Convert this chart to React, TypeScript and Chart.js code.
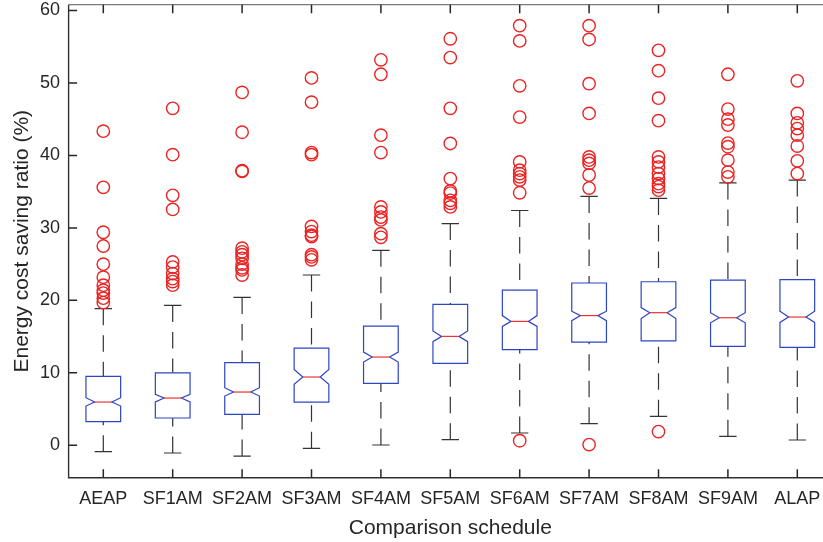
import React, { useEffect, useRef } from "react";
import { Chart, registerables } from "chart.js";

Chart.register(...registerables);

// Schedules compared on the horizontal axis
const categories = [
  "AEAP", "SF1AM", "SF2AM", "SF3AM", "SF4AM", "SF5AM",
  "SF6AM", "SF7AM", "SF8AM", "SF9AM", "ALAP",
];

// Box statistics (energy cost saving ratio, %)
const whiskerLow = [-0.88, -1.06, -1.48, -0.41, 0.04, 0.78, 1.7, 2.98, 4.0, 1.24, 0.73];
const q1 = [3.26, 3.77, 4.27, 5.97, 8.55, 11.3, 13.2, 14.25, 14.4, 13.65, 13.5];
const notchLow = [5.42, 6.0, 6.8, 8.41, 11.49, 14.3, 16.4, 17.2, 17.5, 16.9, 16.96];
const median = [5.97, 6.52, 7.35, 9.42, 12.18, 15.03, 17.1, 17.9, 18.3, 17.6, 17.7];
const notchHigh = [6.57, 7.03, 7.95, 10.48, 12.87, 15.77, 17.9, 18.5, 19.0, 18.3, 18.5];
const q3 = [9.52, 10.0, 11.4, 13.4, 16.45, 19.45, 21.4, 22.4, 22.57, 22.8, 22.85];
const whiskerHigh = [18.85, 19.3, 20.4, 23.5, 26.9, 30.6, 32.4, 34.35, 34.07, 36.2, 36.6];

// Outlying observations per schedule
const outliers = [
  [43.35, 35.6, 29.4, 27.5, 25.0, 23.2, 22.1, 21.4, 21.0, 20.3, 19.7],
  [46.5, 40.1, 34.5, 32.55, 25.3, 24.6, 23.7, 23.0, 22.6, 22.1],
  [48.7, 43.2, 37.9, 37.8, 27.2, 26.7, 26.3, 25.8, 25.0, 24.5, 24.2, 23.5],
  [50.7, 47.35, 40.4, 40.1, 30.2, 29.5, 29.0, 28.8, 26.3, 26.0, 25.6],
  [53.2, 51.2, 42.8, 40.4, 32.9, 32.2, 31.5, 31.1, 29.2, 28.7],
  [56.1, 53.5, 46.5, 41.65, 36.8, 35.1, 34.8, 33.8, 33.4, 32.9],
  [57.9, 55.8, 49.6, 45.3, 39.1, 37.97, 37.5, 37.05, 36.6, 34.85, 0.63],
  [57.9, 56.0, 49.9, 45.8, 39.8, 39.35, 38.9, 37.3, 35.5, 0.1],
  [54.5, 51.7, 47.9, 44.8, 39.8, 39.1, 38.4, 37.5, 36.8, 36.1, 35.7, 35.2, 1.9],
  [51.2, 46.4, 45.0, 44.2, 41.7, 41.2, 39.35, 37.7, 37.05],
  [50.3, 45.8, 44.5, 43.7, 42.8, 41.3, 39.25, 37.5],
];

const yTicks = [0, 10, 20, 30, 40, 50, 60];
const xTicks = categories.map((_, i) => i + 1);

const FONT = "'Liberation Sans', Arial, Helvetica, sans-serif";
const TEXT = "#262626";
const BOX_BLUE = "rgb(45, 70, 195)";
const MEDIAN_RED = "rgb(238, 50, 50)";
const OUTLIER_RED = "rgb(235, 35, 35)";
const WHISKER = "#333333";

// Notched boxes, whiskers and the axes frame with inward ticks
const boxPlotPlugin = {
  id: "notchedBoxPlot",
  beforeDatasetsDraw(chart: any) {
    const { ctx, scales } = chart;
    const xs = scales.x;
    const ys = scales.y;
    ctx.save();
    categories.forEach((_, i) => {
      const c = i + 1;
      const cx = xs.getPixelForValue(c);
      const w = xs.getPixelForValue(c + 0.25) - cx;
      const capW = xs.getPixelForValue(c + 0.125) - cx;
      const pQ1 = ys.getPixelForValue(q1[i]);
      const pQ3 = ys.getPixelForValue(q3[i]);
      const pMed = ys.getPixelForValue(median[i]);
      const pNl = ys.getPixelForValue(notchLow[i]);
      const pNh = ys.getPixelForValue(notchHigh[i]);
      const pWl = ys.getPixelForValue(whiskerLow[i]);
      const pWh = ys.getPixelForValue(whiskerHigh[i]);

      // whiskers: dashed from the cap towards the box
      ctx.strokeStyle = WHISKER;
      ctx.lineWidth = 1.2;
      ctx.setLineDash([16.5, 10]);
      ctx.beginPath();
      ctx.moveTo(cx, pWh);
      ctx.lineTo(cx, pQ3);
      ctx.stroke();
      ctx.beginPath();
      ctx.moveTo(cx, pWl);
      ctx.lineTo(cx, pQ1);
      ctx.stroke();
      ctx.setLineDash([]);
      // caps
      ctx.beginPath();
      ctx.moveTo(cx - capW, pWh);
      ctx.lineTo(cx + capW, pWh);
      ctx.moveTo(cx - capW, pWl);
      ctx.lineTo(cx + capW, pWl);
      ctx.stroke();

      // notched box outline
      ctx.strokeStyle = BOX_BLUE;
      ctx.lineWidth = 1.2;
      ctx.beginPath();
      ctx.moveTo(cx - w, pQ1);
      ctx.lineTo(cx - w, pNl);
      ctx.lineTo(cx - w / 2, pMed);
      ctx.lineTo(cx - w, pNh);
      ctx.lineTo(cx - w, pQ3);
      ctx.lineTo(cx + w, pQ3);
      ctx.lineTo(cx + w, pNh);
      ctx.lineTo(cx + w / 2, pMed);
      ctx.lineTo(cx + w, pNl);
      ctx.lineTo(cx + w, pQ1);
      ctx.closePath();
      ctx.stroke();

      // median
      ctx.strokeStyle = MEDIAN_RED;
      ctx.beginPath();
      ctx.moveTo(cx - w / 2, pMed);
      ctx.lineTo(cx + w / 2, pMed);
      ctx.stroke();
    });
    ctx.restore();
  },
  afterDraw(chart: any) {
    const { ctx, chartArea, scales } = chart;
    const { left, right, top, bottom } = chartArea;
    const tickLen = 8.5;
    ctx.save();
    // frame: lighter top and right edges, darker left and bottom axes
    ctx.lineWidth = 1.2;
    ctx.strokeStyle = "#7a7a7a";
    ctx.beginPath();
    ctx.moveTo(left, top);
    ctx.lineTo(right, top);
    ctx.lineTo(right, bottom);
    ctx.stroke();
    ctx.strokeStyle = "#303030";
    ctx.lineWidth = 1.4;
    ctx.beginPath();
    ctx.moveTo(left, top);
    ctx.lineTo(left, bottom);
    ctx.lineTo(right, bottom);
    ctx.stroke();
    // inward tick marks
    ctx.strokeStyle = TEXT;
    ctx.lineWidth = 1.5;
    ctx.beginPath();
    scales.y.ticks.forEach((t: any) => {
      const py = scales.y.getPixelForValue(t.value);
      ctx.moveTo(left, py);
      ctx.lineTo(left + tickLen, py);
      ctx.moveTo(right, py);
      ctx.lineTo(right - tickLen, py);
    });
    scales.x.ticks.forEach((t: any) => {
      const px = scales.x.getPixelForValue(t.value);
      ctx.moveTo(px, top);
      ctx.lineTo(px, top + tickLen);
      ctx.moveTo(px, bottom);
      ctx.lineTo(px, bottom - tickLen);
    });
    ctx.stroke();
    ctx.restore();
  },
};

export default function App() {
  const canvasRef = useRef<HTMLCanvasElement | null>(null);

  useEffect(() => {
    if (!canvasRef.current) return;
    const outlierPoints = outliers.flatMap((vals, i) =>
      vals.map((v) => ({ x: i + 1, y: v }))
    );
    const chart = new Chart(canvasRef.current, {
      type: "scatter",
      data: {
        datasets: [
          {
            label: "Outliers",
            data: outlierPoints,
            pointStyle: "circle",
            pointRadius: 6.2,
            pointBorderWidth: 1.4,
            pointBorderColor: OUTLIER_RED,
            pointBackgroundColor: "rgba(0,0,0,0)",
            pointHoverRadius: 6.2,
          },
        ],
      },
      options: {
        animation: false,
        responsive: false,
        devicePixelRatio: 1,
        events: [],
        layout: {
          autoPadding: false,
          padding: { top: 4.7, left: 0, right: 0, bottom: 0 },
        },
        plugins: {
          legend: { display: false },
          tooltip: { enabled: false },
        },
        scales: {
          x: {
            type: "linear",
            min: 0.5,
            max: 11.5,
            afterFit: (s: any) => {
              s.height = 64.3;
              s.paddingLeft = 0;
              s.paddingRight = 0;
            },
            afterBuildTicks: (s: any) => {
              s.ticks = xTicks.map((v) => ({ value: v }));
            },
            grid: { display: false, drawTicks: false },
            border: { display: false },
            ticks: {
              autoSkip: false,
              maxRotation: 0,
              padding: 10.5,
              color: TEXT,
              font: { family: FONT, size: 18 },
              callback: (v: any) => categories[Number(v) - 1] ?? "",
            },
            title: {
              display: true,
              text: "Comparison schedule",
              color: TEXT,
              font: { family: FONT, size: 21 },
              padding: { top: 0, bottom: 1.5 },
            },
          },
          y: {
            type: "linear",
            min: -4.47,
            max: 60.8,
            afterFit: (s: any) => {
              s.width = 68.6;
              s.paddingTop = 0;
              s.paddingBottom = 0;
            },
            afterBuildTicks: (s: any) => {
              s.ticks = yTicks.map((v) => ({ value: v }));
            },
            grid: { display: false, drawTicks: false },
            border: { display: false },
            ticks: {
              padding: 8.6,
              color: TEXT,
              font: { family: FONT, size: 18 },
            },
            title: {
              display: true,
              text: "Energy cost saving ratio (%)",
              color: TEXT,
              font: { family: FONT, size: 21 },
              padding: { top: 9.5, bottom: 0 },
            },
          },
        },
      },
      plugins: [boxPlotPlugin],
    });
    return () => chart.destroy();
  }, []);

  // The axes run a little past the visible window on the right
  return (
    <div
      style={{
        position: "fixed",
        left: 0,
        top: 0,
        width: 823,
        height: 542,
        overflow: "hidden",
        background: "#ffffff",
      }}
    >
      <canvas ref={canvasRef} width={832} height={542} style={{ display: "block" }} />
    </div>
  );
}
